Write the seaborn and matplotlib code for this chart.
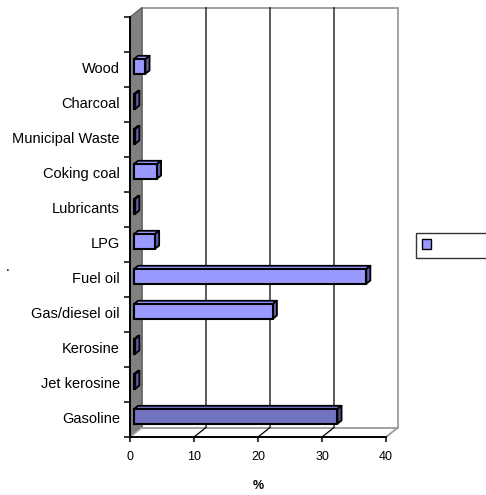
import matplotlib
matplotlib.use("Agg")
import matplotlib.pyplot as plt
import seaborn as sns
from matplotlib.patches import Polygon, Rectangle, Patch
from matplotlib.lines import Line2D
from matplotlib.transforms import Affine2D, ScaledTranslation

# Share of final consumption by fuel, in percent
categories = ["Wood", "Charcoal", "Municipal Waste", "Coking coal", "Lubricants",
              "LPG", "Fuel oil", "Gas/diesel oil", "Kerosine", "Jet kerosine", "Gasoline"]
values = [1.8, 0.2, 0.2, 3.6, 0.2, 3.3, 36.3, 21.7, 0.2, 0.2, 31.8]
x_ticks = [0, 10, 20, 30, 40]
x_label = "%"

front_colors = {c: "#9999FF" for c in categories}
front_colors["Gasoline"] = "#7272C2"
side_colors = {c: "#5E5EAE" for c in categories}
side_colors["Gasoline"] = "#4A4A96"

sns.set_theme(style="white")
plt.rcParams["font.family"] = ["Liberation Sans", "DejaVu Sans"]

W, H = 486, 495
fig = plt.figure(figsize=(W / 100, H / 100), dpi=100)
ax = fig.add_axes([130 / W, 58 / H, 256 / W, 420 / H])

sns.barplot(x=values, y=categories, hue=categories, palette=front_colors,
            orient="h", width=0.42, saturation=1, legend=False,
            edgecolor="black", linewidth=1.5, ax=ax, zorder=3)
bars = [p for p in ax.patches if isinstance(p, Rectangle)]

ax.set_xlim(0, 40)
ax.set_ylim(len(categories) - 0.5, -1.5)

# depth of the 3-D box, in data units (12 px right, 9.5 px up)
DX, DY = 12 / 6.4, -9.5 / 35
y_top, y_bot = -1.5, len(categories) - 0.5
f, b = 0.33, 0.67  # bar front / back depth fractions

# back wall
ax.add_patch(Rectangle((DX, y_top + DY), 40, y_bot - y_top, facecolor="white",
                       edgecolor="#9A9A9A", linewidth=1.3, clip_on=False, zorder=0.5))
# gridlines on back wall and floor
for xv in x_ticks[1:-1]:
    ax.add_line(Line2D([xv + DX, xv + DX, xv], [y_top + DY, y_bot + DY, y_bot],
                       color="black", linewidth=0.9, clip_on=False, zorder=0.8))
# floor right edge
ax.add_line(Line2D([40 + DX, 40], [y_bot + DY, y_bot], color="#9A9A9A",
                   linewidth=1.3, clip_on=False, zorder=0.8))
# left side wall
ax.add_patch(Polygon([(0, y_top), (DX, y_top + DY), (DX, y_bot + DY), (0, y_bot)],
                     closed=True, facecolor="#808080", edgecolor="#555555",
                     linewidth=0.8, clip_on=False, zorder=0.9))
ax.add_line(Line2D([0, DX], [y_bot, y_bot + DY], color="#A8A8A8",
                   linewidth=1.0, clip_on=False, zorder=0.95))

# turn the flat bars into 3-D blocks
shift = Affine2D().translate(f * DX, f * DY)
for patch in bars:
    x0, y0 = patch.get_x(), patch.get_y()
    w, h = patch.get_width(), patch.get_height()
    cat = categories[int(round(y0 + h / 2))]
    x1, y1 = x0 + w, y0 + h
    fx, fy, bx, by = f * DX, f * DY, b * DX, b * DY
    top = [(x0 + fx, y0 + fy), (x1 + fx, y0 + fy), (x1 + bx, y0 + by), (x0 + bx, y0 + by)]
    side = [(x1 + fx, y0 + fy), (x1 + bx, y0 + by), (x1 + bx, y1 + by), (x1 + fx, y1 + fy)]
    ax.add_patch(Polygon(top, closed=True, facecolor=front_colors[cat],
                         edgecolor="black", linewidth=1.3, joinstyle="round",
                         clip_on=False, zorder=2.9))
    ax.add_patch(Polygon(side, closed=True, facecolor=side_colors[cat],
                         edgecolor="black", linewidth=1.3, joinstyle="round",
                         clip_on=False, zorder=2.9))
    patch.set_transform(shift + ax.transData)
    patch.set_clip_on(False)

# axes lines and ticks
for s in ["top", "right"]:
    ax.spines[s].set_visible(False)
for s in ["left", "bottom"]:
    ax.spines[s].set_color("black")
    ax.spines[s].set_linewidth(1.4)
    ax.spines[s].set_zorder(4)

ax.set_xticks(x_ticks)
ax.set_xticklabels([str(t) for t in x_ticks], fontsize=9)
ax.set_yticks(range(len(categories)))
ax.set_yticklabels(categories, fontsize=10.5)
ax.set_yticks([i - 0.5 for i in range(len(categories) + 1)] + [-1.5], minor=True)
ax.tick_params(axis="y", which="major", length=0, pad=7.3, colors="black")
ax.tick_params(axis="y", which="minor", left=True, length=4.5, width=1.1, color="black")
ax.tick_params(axis="x", which="major", bottom=True, length=3.8, width=1.1,
               color="black", pad=6, labelcolor="black")
for lab in ax.get_yticklabels():
    lab.set_transform(lab.get_transform() + ScaledTranslation(0, 0.02, fig.dpi_scale_trans))

ax.set_xlabel(x_label, fontsize=9, fontweight="bold", labelpad=12.5, color="black")
ax.set_ylabel("")
ax.grid(False)

# series legend box
handle = Patch(facecolor="#9999FF", edgecolor="black", linewidth=1.0)
leg = fig.legend([handle], ["                         "], loc="upper left",
                 bbox_to_anchor=(415.7 / W, 1 - 232.7 / H), bbox_transform=fig.transFigure,
                 frameon=True, fancybox=False, borderaxespad=0, borderpad=0.5,
                 handlelength=0.7, handleheight=0.9, handletextpad=0.5, fontsize=9)
leg.get_frame().set_edgecolor("black")
leg.get_frame().set_linewidth(1.0)

fig.text(6 / W, 1 - 271 / H, ".", fontsize=10, color="black", ha="left", va="baseline")

fig.savefig("out.png", dpi=100)
